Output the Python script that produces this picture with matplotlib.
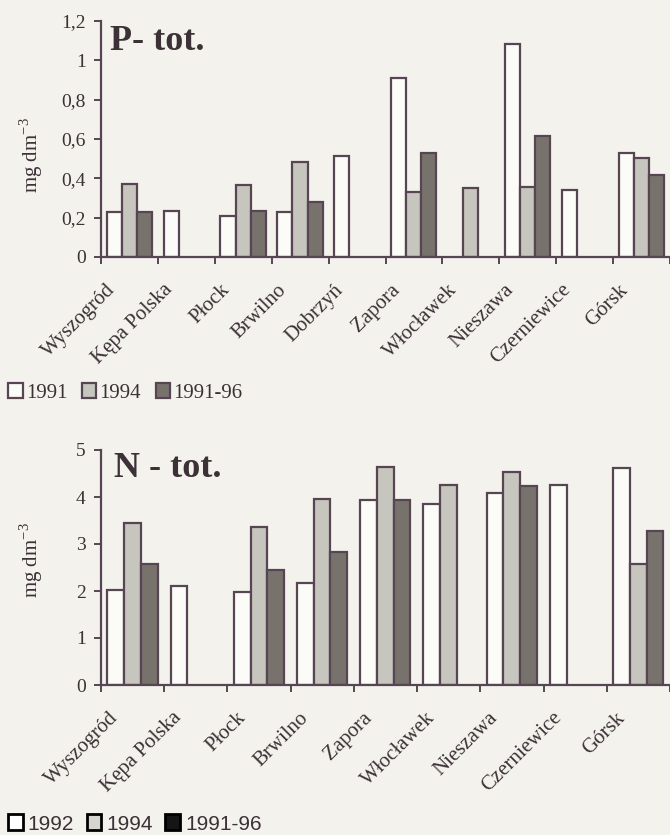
import numpy as np
import matplotlib
matplotlib.use("Agg")
import matplotlib.pyplot as plt
from matplotlib.patches import Patch

nan = np.nan

# ---- data ----
p_sites = ["Wyszogród", "Kępa Polska", "Płock", "Brwilno", "Dobrzyń", "Zapora",
           "Włocławek", "Nieszawa", "Czerniewice", "Górsk"]
p_1991 = [0.23, 0.235, 0.21, 0.23, 0.515, 0.91, nan, 1.085, 0.34, 0.53]
p_1994 = [0.37, nan, 0.365, 0.485, nan, 0.33, 0.35, 0.355, nan, 0.505]
p_9196 = [0.23, nan, 0.235, 0.28, nan, 0.53, nan, 0.615, nan, 0.415]
p_ticks = [0, 0.2, 0.4, 0.6, 0.8, 1.0, 1.2]
p_ticklabels = ["0", "0,2", "0,4", "0,6", "0,8", "1", "1,2"]

n_sites = ["Wyszogród", "Kępa Polska", "Płock", "Brwilno", "Zapora",
           "Włocławek", "Nieszawa", "Czerniewice", "Górsk"]
n_1992 = [2.03, 2.10, 1.97, 2.18, 3.94, 3.85, 4.09, 4.25, 4.62]
n_1994 = [3.45, nan, 3.37, 3.96, 4.64, 4.25, 4.54, nan, 2.58]
n_9196 = [2.58, nan, 2.45, 2.84, 3.94, nan, 4.23, nan, 3.28]
n_ticks = [0, 1, 2, 3, 4, 5]
n_ticklabels = ["0", "1", "2", "3", "4", "5"]

# ---- style ----
W, H = 670, 835
BG = "#f3f2ec"
EDGE = "#574553"
TXT = "#3b3136"
C_WHITE = "#fbfbf7"
C_GRAY = "#c6c6be"
C_DARK = "#78726d"
SERIF = ["Liberation Serif", "DejaVu Serif"]

plt.rcParams["font.family"] = SERIF
plt.rcParams["text.color"] = TXT

fig = plt.figure(figsize=(W / 100, H / 100), dpi=100, facecolor=BG)


def px(x, y):
    return x / W, 1 - y / H


def make_axes(left, top, right, bottom):
    l, t = px(left, top)
    r, b = px(right, bottom)
    ax = fig.add_axes([l, b, r - l, t - b])
    ax.set_facecolor("none")
    return ax


def draw(ax, sites, series, ylim, ticks, ticklabels, xlim_right, label_shift):
    n = len(sites)
    x = np.arange(n)
    bw = 0.265
    cols = [C_WHITE, C_GRAY, C_DARK]
    handles = []
    for j, (vals, c) in enumerate(zip(series, cols)):
        b = ax.bar(x + 0.1 + j * bw, vals, width=bw, align="edge", color=c,
                   edgecolor=EDGE, linewidth=1.6, zorder=3)
        handles.append(b)
    ax.set_xlim(0, xlim_right)
    ax.set_ylim(*ylim)
    for s in ["top", "right"]:
        ax.spines[s].set_visible(False)
    for s in ["left", "bottom"]:
        ax.spines[s].set_color(EDGE)
        ax.spines[s].set_linewidth(1.6)
        ax.spines[s].set_zorder(4)
    ax.set_yticks(ticks)
    ax.set_yticklabels(ticklabels, fontsize=14, color=TXT)
    ax.tick_params(axis="y", direction="out", length=5, width=1.4,
                   color=EDGE, pad=6)
    ax.set_xticks(np.arange(n + 1))
    ax.set_xticklabels([])
    ax.tick_params(axis="x", which="major", direction="out", length=5,
                   width=1.4, color=EDGE)
    ax.set_xticks(x + 0.5 - label_shift, minor=True)
    ax.set_xticklabels(sites, minor=True, rotation=45, ha="right", va="top",
                       fontsize=15, color=TXT)
    ax.tick_params(axis="x", which="minor", length=0, pad=17)
    return handles


YLAB = "mg dm$^{\\mathregular{-3}}$"

# ---- top chart (P) ----
ax1 = make_axes(101, 21, 670, 257)
h1 = draw(ax1, p_sites, [p_1991, p_1994, p_9196], (0, 1.2), p_ticks,
          p_ticklabels, 10, 10 / 57)
fig.text(*px(110, 50), "P- tot.", fontsize=26, fontweight="bold",
         va="baseline", ha="left", color=TXT)
fig.text(*px(31, 155), YLAB, rotation=90, fontsize=15,
         ha="center", va="center", color=TXT)

fig.legend(h1, ["1991", "1994", "1991-96"], loc="center left",
           bbox_to_anchor=px(8, 393), ncol=3, frameon=False,
           handlelength=0.7, handleheight=0.7, handletextpad=0.15,
           columnspacing=0.7, borderaxespad=0, borderpad=0,
           prop={"family": SERIF, "size": 15})

# ---- bottom chart (N) ----
ax2 = make_axes(101, 450, 670, 685)
draw(ax2, n_sites, [n_1992, n_1994, n_9196], (0, 5), n_ticks,
     n_ticklabels, (670 - 101) / 63.5, 10 / 63.5)
fig.text(*px(114, 477), "N - tot.", fontsize=26, fontweight="bold",
         va="baseline", ha="left", color=TXT)
fig.text(*px(31, 560), YLAB, rotation=90, fontsize=15,
         ha="center", va="center", color=TXT)

h2 = [Patch(facecolor="white", edgecolor="black", linewidth=2),
      Patch(facecolor="#d6d6d0", edgecolor="black", linewidth=2),
      Patch(facecolor="#151515", edgecolor="black", linewidth=2)]
fig.legend(h2, ["1992", "1994", "1991-96"], loc="center left",
           bbox_to_anchor=px(8, 824), ncol=3, frameon=False,
           handlelength=0.7, handleheight=0.8, handletextpad=0.25,
           columnspacing=0.6, borderaxespad=0, borderpad=0,
           prop={"family": ["Liberation Sans Narrow", "Liberation Sans", "DejaVu Sans"],
                 "size": 15})

fig.savefig("out.png", dpi=100, facecolor=BG)
